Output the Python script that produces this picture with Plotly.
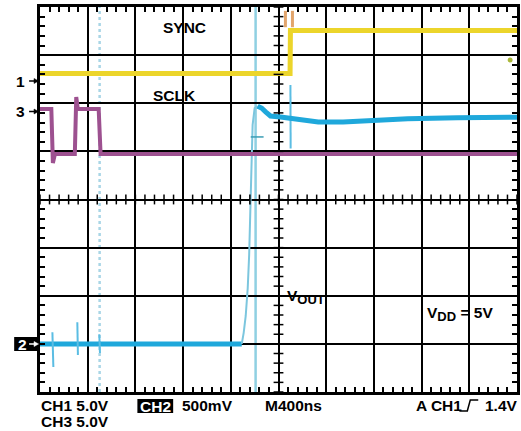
import plotly.graph_objects as go

# ---------------- data (time in ns, level in screen divisions) ----------------
time_per_div = 400          # M400ns
n_xdiv = 10
n_ydiv = 8

# CH1 : SYNC (yellow)
sync_t = [0, 2097, 2100, 4000]
sync_v = [2.62, 2.62, 3.51, 3.51]
sync_glitch_t = [2058, 2058, None, 2117, 2117]
sync_glitch_v = [3.58, 3.92, None, 3.58, 3.92]
dot_t = [3942]
dot_v = [2.90]

# CH3 : SCLK (purple)
sclk_t = [0, 95, 108, 125, 292, 304, 317, 492, 508, 4000]
sclk_v = [1.88, 1.88, 0.76, 0.944, 0.944, 2.13, 1.88, 1.88, 0.944, 0.944]

# CH2 : VOUT (cyan)
vout_base_t = [0, 1692]
vout_base_v = [-3.0, -3.0]
vout_spike_t = [104, 112, None, 313, 318, None, 497, 503, None, 2100, 2102]
vout_spike_v = [-2.76, -3.48, None, -2.55, -3.23, None, -2.80, -3.19, None, 2.38, 1.06]
vout_rise_t = [1692, 1708, 1725, 1742, 1754, 1762, 1771, 1775, 1783, 1800, 1825]
vout_rise_v = [-3.0, -2.77, -2.42, -1.84, -1.15, -0.53, 0.09, 0.82, 1.55, 1.90, 1.94]
vout_set_t = [1825, 1858, 1892, 1933, 2017, 2083, 2167, 2333,
              2542, 2667, 3083, 3500, 4000]
vout_set_v = [1.94, 1.90, 1.82, 1.735, 1.714, 1.69, 1.67, 1.61,
              1.61, 1.63, 1.68, 1.70, 1.71]
mark_t = [1767, 1875]
mark_v = [1.30, 1.30]

# cursors
cursor_t = [500, 1808]

# ---------------- geometry helpers (pixels -> paper) ----------------
W, H = 521, 431
ML, MR, MT, MB = 40, 1, 7, 39
PW, PH = W - ML - MR, H - MT - MB


def px(x):
    return (x - ML) / PW


def py(y):
    return (H - MB - y) / PH


FONT = "Liberation Sans, Arial, Helvetica, sans-serif"
FS = 15.5
YEL = "#ecd52b"
PUR = "#9d5190"
CYA = "#1fa8db"

fig = go.Figure()

# VOUT
fig.add_trace(go.Scatter(x=vout_base_t, y=vout_base_v, mode="lines",
                         line=dict(color=CYA, width=5), hoverinfo="skip"))
fig.add_trace(go.Scatter(x=vout_spike_t, y=vout_spike_v, mode="lines",
                         line=dict(color="#5bbde3", width=2), hoverinfo="skip"))
fig.add_trace(go.Scatter(x=vout_rise_t, y=vout_rise_v, mode="lines",
                         line=dict(color="#7cc6de", width=2), hoverinfo="skip"))
fig.add_trace(go.Scatter(x=vout_set_t, y=vout_set_v, mode="lines",
                         line=dict(color=CYA, width=5), hoverinfo="skip"))
fig.add_trace(go.Scatter(x=mark_t, y=mark_v, mode="lines",
                         line=dict(color="#3a9cb4", width=1.5), hoverinfo="skip"))
# SCLK
fig.add_trace(go.Scatter(x=sclk_t, y=sclk_v, mode="lines",
                         line=dict(color=PUR, width=4), hoverinfo="skip"))
# SYNC
fig.add_trace(go.Scatter(x=sync_t, y=sync_v, mode="lines",
                         line=dict(color=YEL, width=5), hoverinfo="skip"))
fig.add_trace(go.Scatter(x=sync_glitch_t, y=sync_glitch_v, mode="lines",
                         line=dict(color="#e2a56c", width=3), hoverinfo="skip"))
fig.add_trace(go.Scatter(x=dot_t, y=dot_v, mode="markers",
                         marker=dict(color="#aab83a", size=5), hoverinfo="skip"))

# centre-line minor ticks
xc = n_xdiv * time_per_div / 2
yt = [round(-n_ydiv / 2 + 0.2 * i, 2) for i in range(5 * n_ydiv + 1)]
xt = [round(i * time_per_div / 5) for i in range(5 * n_xdiv + 1)]
fig.add_trace(go.Scatter(x=[xc] * len(yt), y=yt, mode="markers",
                         marker=dict(symbol="line-ew", size=7,
                                     line=dict(color="black", width=1.5)),
                         hoverinfo="skip"))
fig.add_trace(go.Scatter(x=xt, y=[0] * len(xt), mode="markers",
                         marker=dict(symbol="line-ns", size=7,
                                     line=dict(color="black", width=1.5)),
                         hoverinfo="skip"))

shapes = []
# cursors
shapes.append(dict(type="line", xref="x", yref="paper", x0=cursor_t[0], x1=cursor_t[0],
                   y0=0, y1=1, line=dict(color="#a9d6e6", width=2.5, dash="dot"),
                   layer="between"))
shapes.append(dict(type="line", xref="x", yref="paper", x0=cursor_t[1], x1=cursor_t[1],
                   y0=0, y1=1, line=dict(color="#8fd0e2", width=2.5), layer="between"))

# white label boxes
for (x0, x1, y0, y1) in [(158, 212, 9, 40), (147, 203, 83, 107),
                         (283, 333, 283, 313), (424, 502, 298, 325)]:
    shapes.append(dict(type="rect", xref="paper", yref="paper",
                       x0=px(x0), x1=px(x1), y0=py(y1), y1=py(y0),
                       fillcolor="white", line=dict(width=0), layer="between"))

# black boxes ("2 ->" and "CH2")
for (x0, x1, y0, y1) in [(14, 40, 337, 351), (138, 174, 399, 413)]:
    shapes.append(dict(type="rect", xref="paper", yref="paper",
                       x0=px(x0), x1=px(x1), y0=py(y1), y1=py(y0),
                       fillcolor="black", line=dict(width=0), layer="above"))


def path_of(pts, close=False):
    s = "M " + " L ".join(f"{px(a):.5f},{py(b):.5f}" for a, b in pts)
    return s + (" Z" if close else "")


# small channel arrows
for (yy, col) in [(81, "black"), (111.5, "black"), (344, "white")]:
    shapes.append(dict(type="path", xref="paper", yref="paper",
                       path=path_of([(29, yy), (35, yy)]),
                       line=dict(color=col, width=1.5), layer="above"))
    shapes.append(dict(type="path", xref="paper", yref="paper",
                       path=path_of([(34, yy - 2.5), (38.5, yy), (34, yy + 2.5)], close=True),
                       fillcolor=col, line=dict(color=col, width=0.5), layer="above"))

# trigger edge symbol
shapes.append(dict(type="path", xref="paper", yref="paper",
                   path=path_of([(462, 411), (470, 411), (473, 400), (481, 400)]),
                   line=dict(color="black", width=1.5)))

fig.update_layout(shapes=shapes)


def ann(text, x, y, size=FS, color="black", xanchor="left", yanchor="middle"):
    fig.add_annotation(text=text, xref="paper", yref="paper", x=px(x), y=py(y),
                       xanchor=xanchor, yanchor=yanchor, showarrow=False,
                       font=dict(family=FONT, size=size, color=color))


SUB = "<sub><span style='font-size:13px'>{}</span></sub>"

ann("<b>SYNC</b>", 185, 27, xanchor="center")
ann("<b>SCLK</b>", 175.5, 96, xanchor="center")
ann("<b>V" + SUB.format("OUT") + "</b>", 287, 297)
ann("<b>V" + SUB.format("DD") + " = 5V</b>", 427, 313.5)

ann("<b>1</b>", 20, 82, xanchor="center")
ann("<b>3</b>", 20, 112, xanchor="center")
ann("<b>2</b>", 22, 344, color="white", xanchor="center")

ann("<b>CH1 5.0V</b>", 39, 405.5)
ann("<b>CH3 5.0V</b>", 39, 421.5)
ann("<b>CH2</b>", 156, 406, color="white", xanchor="center")
ann("<b>500mV</b>", 181, 405.5)
ann("<b>M400ns</b>", 264, 405.5)
ann("<b>A CH1</b>", 416, 405.5)
ann("<b>1.4V</b>", 486, 405.5)

axis_common = dict(showline=True, mirror="allticks", linecolor="black", linewidth=2.5,
                   showgrid=True, gridcolor="black", gridwidth=1.5, zeroline=False,
                   ticks="inside", ticklen=5, tickwidth=1.5, tickcolor="black",
                   showticklabels=False, fixedrange=True)

fig.update_xaxes(range=[0, n_xdiv * time_per_div], dtick=time_per_div, tick0=0,
                 minor=dict(dtick=time_per_div / 5, tick0=0, ticks="inside", ticklen=5,
                            tickwidth=1.5, tickcolor="black", showgrid=False),
                 **axis_common)
fig.update_yaxes(range=[-n_ydiv / 2, n_ydiv / 2], dtick=1, tick0=0,
                 minor=dict(dtick=0.2, tick0=0, ticks="inside", ticklen=5,
                            tickwidth=1.5, tickcolor="black", showgrid=False),
                 **axis_common)

fig.update_layout(width=W, height=H, margin=dict(l=ML, r=MR, t=MT, b=MB),
                  paper_bgcolor="white", plot_bgcolor="white", showlegend=False,
                  font=dict(family=FONT))

fig.write_html("out.html", config={"displayModeBar": False},
               post_script="document.body.style.margin='0';document.body.style.overflow='hidden';")
